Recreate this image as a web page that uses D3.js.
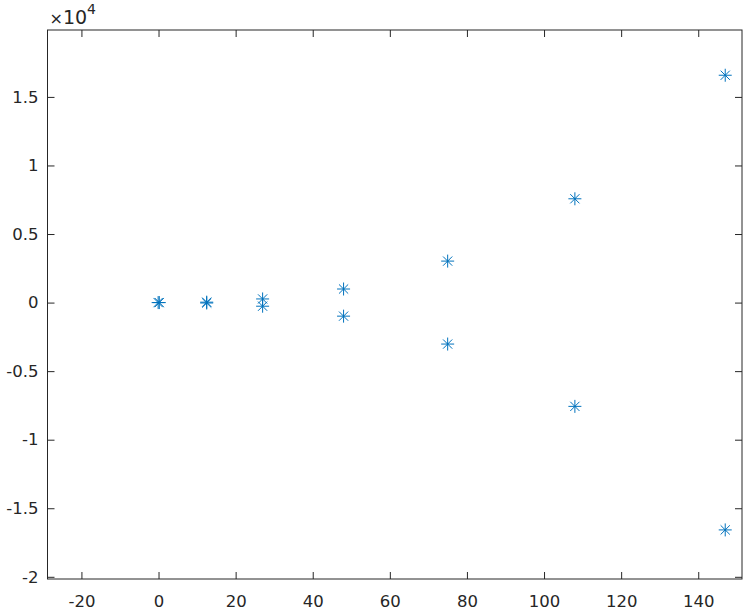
<!DOCTYPE html>
<html>
<head>
<meta charset="utf-8">
<script src="https://cdn.jsdelivr.net/npm/d3@7"></script>
<style>
html,body{margin:0;padding:0;background:#fff;}
svg{display:block;}
text{font-family:"DejaVu Sans",sans-serif;fill:#262626;}
</style>
</head>
<body>
<svg id="chart" width="744" height="611"></svg>
<script>
// Data (y in raw units; axis shows ×10^4)
const xValues = [-0.1, 0.2, 12.5, 12.5, 27, 27, 48, 48, 75, 75, 108, 108, 147, 147];
const yValues = [0, 0, 30, -30, 265, -265, 990, -990, 3025, -3025, 7570, -7570, 16580, -16580];
const xTicks = [-20, 0, 20, 40, 60, 80, 100, 120, 140];
const yTicks = [-2, -1.5, -1, -0.5, 0, 0.5, 1, 1.5];
const yExponent = 4;

const W = 744, H = 611;
const mLeft = 47.5, mRight = 742, mTop = 30, mBottom = 579;
const axisColor = "#262626";
const markerColor = "#0072BD";

const svg = d3.select("#chart");
const x = d3.scaleLinear().domain([-28.8, 151.35]).range([mLeft, mRight]);
const y = d3.scaleLinear().domain([-2.016, 1.988]).range([mBottom, mTop]);

const tickLen = 7;
const g = svg.append("g");

const fmt = d => String(d);
const xAxisB = d3.axisBottom(x).tickValues(xTicks).tickFormat(fmt).tickSizeInner(-tickLen).tickSizeOuter(0).tickPadding(16);
const xAxisT = d3.axisTop(x).tickValues(xTicks).tickFormat("").tickSizeInner(-tickLen).tickSizeOuter(0);
const yAxisL = d3.axisLeft(y).tickValues(yTicks).tickFormat(fmt).tickSizeInner(-tickLen).tickSizeOuter(0).tickPadding(9);
const yAxisR = d3.axisRight(y).tickValues(yTicks).tickFormat("").tickSizeInner(-tickLen).tickSizeOuter(0);

function style(sel){
  sel.select(".domain").remove();
  sel.selectAll(".tick line").attr("stroke", axisColor).attr("stroke-width", 1);
  sel.selectAll(".tick text").attr("fill", axisColor).style("font-size", "16.5px").style("font-family", "DejaVu Sans, sans-serif");
}
g.append("g").attr("transform", `translate(0,${mBottom})`).call(xAxisB).call(style);
g.append("g").attr("transform", `translate(0,${mTop})`).call(xAxisT).call(style);
g.append("g").attr("transform", `translate(${mLeft},0)`).call(yAxisL).call(style);
g.append("g").attr("transform", `translate(${mRight},0)`).call(yAxisR).call(style);

g.append("rect").attr("x", mLeft).attr("y", mTop).attr("width", mRight-mLeft).attr("height", mBottom-mTop)
  .attr("fill", "none").attr("stroke", axisColor).attr("stroke-width", 1);

const ex = g.append("text").attr("x", mLeft + 2).attr("y", 24).style("font-size", "19px");
ex.append("tspan").style("font-size", "16px").text("×");
ex.append("tspan").text("10");
ex.append("tspan").attr("dy", -10).style("font-size", "14px").text(String(yExponent));

const r = 6.5, d = 4.6;
function asterisk(cx, cy){
  return `M${cx-r},${cy}L${cx+r},${cy}M${cx},${cy-r}L${cx},${cy+r}` +
         `M${cx-d},${cy-d}L${cx+d},${cy+d}M${cx-d},${cy+d}L${cx+d},${cy-d}`;
}
const pts = xValues.map((v,i) => ({x: v, y: yValues[i] / Math.pow(10, yExponent)}));
g.append("g").selectAll("path").data(pts).join("path")
  .attr("d", p => asterisk(x(p.x), y(p.y)))
  .attr("fill", "none").attr("stroke", markerColor).attr("stroke-width", 1);
</script>
</body>
</html>
